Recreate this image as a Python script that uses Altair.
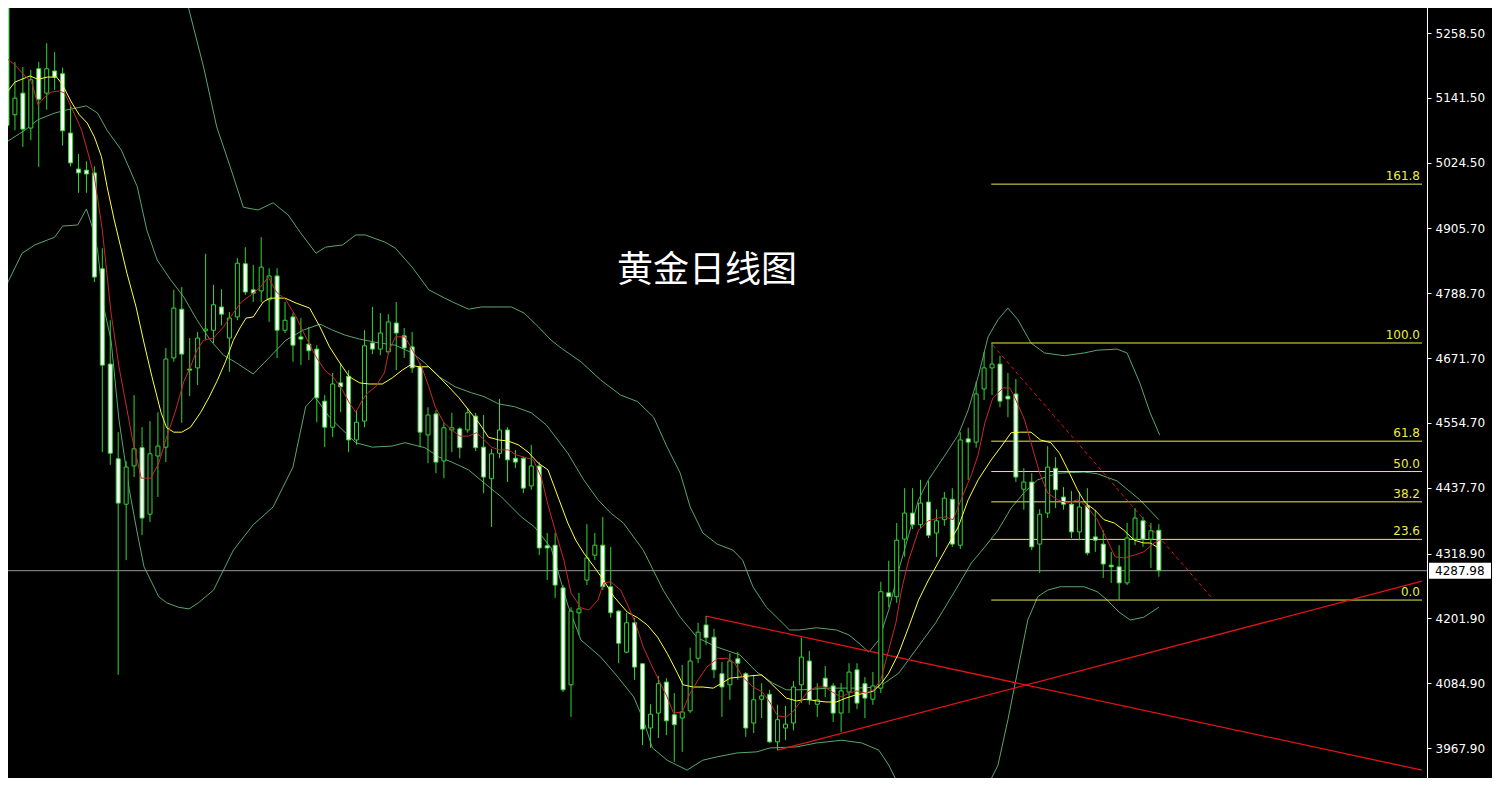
import altair as alt
import pandas as pd

# ---------------- data ----------------
opens = [5312,5111,5150,5087,5194,5150,5190,5185,5078,5013,5011,5006,4833,4661,4490,4408,4477,4510,4390,4495,
         4511,4672,4760,4652,4654,4721,4722,4764,4708,4746,4842,4795,4793,4777,4820,4722,4746,4710,4697,4688,
         4594,4547,4627,4639,4524,4558,4699,4688,4683,4735,4712,4692,4656,4533,4571,4486,4542,4544,4542,4567,
         4511,4454,4500,4542,4491,4491,4441,4477,4333,4334,4257,4082,4212,4271,4316,4334,4259,4215,4141,4194,
         4120,4004,4031,4087,4028,4022,4035,4130,4190,4168,4102,4082,4129,4102,4013,4056,4065,3979,4004,4013,
         4082,4125,4047,4094,4080,4031,4069,4109,4084,4056,4076,4248,4241,4345,4392,4371,4412,4356,4380,4417,
         4334,4526,4520,4616,4654,4661,4603,4607,4435,4448,4336,4392,4473,4421,4408,4358,4405,4349,4336,4298,
         4295,4266,4345,4378,4345,4361]
highs = [5322,5206,5197,5192,5206,5240,5224,5196,5129,5040,5027,5018,4870,4740,4538,4486,4605,4547,4558,4574,
         4690,4795,4800,4708,4719,4860,4804,4796,4755,4852,4872,4840,4890,4834,4834,4773,4753,4744,4728,4695,
         4605,4645,4663,4650,4578,4722,4764,4753,4751,4773,4726,4719,4663,4583,4578,4555,4573,4547,4582,4573,
         4569,4508,4598,4547,4506,4493,4515,4484,4356,4356,4262,4222,4248,4372,4356,4385,4331,4217,4212,4203,
         4121,4047,4098,4094,4067,4118,4149,4194,4206,4183,4123,4139,4141,4105,4100,4085,4073,4046,4044,4089,
         4167,4143,4085,4116,4085,4085,4121,4121,4096,4105,4268,4306,4374,4437,4437,4452,4450,4399,4430,4437,
         4538,4546,4629,4683,4699,4676,4645,4634,4473,4464,4399,4513,4493,4439,4432,4430,4437,4398,4361,4322,
         4334,4374,4401,4385,4374,4372]
lows = [4999,5083,5053,5065,5017,5120,5156,5055,5018,4970,4970,4809,4502,4479,4100,4307,4457,4352,4376,4421,
        4484,4665,4555,4603,4623,4704,4699,4731,4647,4740,4786,4773,4773,4737,4672,4717,4665,4659,4668,4556,
        4511,4529,4574,4502,4515,4547,4679,4677,4679,4650,4672,4645,4511,4482,4464,4455,4502,4491,4537,4504,
        4428,4367,4491,4448,4473,4428,4434,4316,4271,4239,4069,4024,4172,4262,4307,4253,4203,4121,4139,4091,
        3973,3968,3986,3991,3943,3961,4031,4121,4154,4094,4024,4055,4091,3988,3995,4022,3977,3964,3982,4000,
        4049,4046,4024,4060,4015,3997,4031,4038,4022,4046,4067,4222,4230,4313,4363,4365,4347,4313,4369,4331,
        4327,4452,4510,4596,4605,4583,4565,4448,4398,4325,4284,4383,4401,4398,4347,4343,4316,4322,4275,4266,
        4235,4262,4334,4331,4293,4277]
closes = [5092,5141,5085,5174,5139,5194,5179,5082,5024,5006,5004,4818,4659,4500,4410,4475,4508,4383,4499,4513,
          4670,4762,4679,4650,4708,4724,4768,4751,4744,4843,4791,4789,4836,4820,4722,4740,4695,4706,4685,4600,
          4547,4625,4620,4524,4556,4694,4688,4717,4737,4717,4690,4654,4538,4569,4484,4546,4546,4510,4573,4510,
          4457,4499,4542,4488,4484,4437,4477,4329,4329,4262,4073,4215,4219,4311,4334,4259,4212,4157,4194,4114,
          4002,4029,4084,4017,4010,4033,4125,4177,4167,4109,4078,4125,4121,4004,4055,4062,3979,4019,4011,4078,
          4132,4055,4055,4078,4031,4071,4105,4049,4058,4080,4250,4241,4343,4392,4371,4410,4352,4378,4419,4336,
          4524,4520,4607,4654,4661,4594,4598,4457,4448,4331,4390,4475,4434,4408,4358,4403,4320,4343,4300,4295,
          4266,4347,4383,4345,4360,4287.98]

# moving averages / bands: (bar index, price)
ma_fast = [(-0.25,5215),(1.0,5201),(2.0,5185),(3.1,5170),(3.9,5129),(4.75,5143),(5.6,5152),(6.6,5154),(7.25,5150),
           (8.25,5120),(9.4,5083),(10.1,5047),(11.0,4999),(12.0,4903),(13.1,4753),(14.1,4656),(15.75,4529),(16.9,4455),
           (18.1,4455),(19.1,4482),(20.1,4529),(21.25,4578),(22.25,4629),(23.1,4656),(23.9,4686),(24.75,4704),(26.0,4708),
           (27.25,4728),(28.5,4753),(29.5,4773),(30.75,4786),(31.9,4800),(32.9,4818),(33.9,4791),(35.1,4777),(36.4,4746),
           (37.6,4710),(38.9,4674),(40.0,4650),(41.0,4638),(42.0,4620),(43.1,4591),(43.9,4574),(44.75,4596),(45.4,4609),
           (46.4,4620),(47.5,4645),(48.1,4686),(48.9,4710),(50.1,4710),(51.4,4677),(52.25,4654),(53.1,4620),(53.9,4584),
           (55.0,4555),(56.0,4542),(57.0,4531),(58.1,4531),(59.1,4537),(60.1,4524),(61.0,4511),(62.0,4506),(63.1,4506),
           (64.1,4497),(65.1,4493),(66.25,4488),(67.25,4457),(68.1,4407),(69.1,4356),(70.1,4307),(71.0,4248),(72.25,4221),
           (73.25,4217),(74.4,4235),(75.1,4266),(76.0,4268),(77.25,4253),(78.25,4222),(79.1,4194),(80.1,4150),(81.25,4114),
           (82.25,4085),(83.1,4060),(83.9,4031),(85.0,4033),(86.0,4067),(87.0,4091),(88.1,4114),(89.4,4129),(90.6,4130),
           (91.6,4121),(92.6,4096),(93.9,4078),(95.1,4069),(96.0,4051),(97.0,4026),(98.1,4024),(98.9,4033),(99.75,4049),
           (100.75,4069),(101.9,4078),(102.9,4078),(103.9,4069),(105.0,4060),(106.0,4067),(107.0,4071),(108.1,4067),
           (109.1,4073),(110.0,4091),(110.75,4132),(111.9,4194),(112.6,4253),(113.5,4307),(114.75,4361),(116.0,4378),
           (117.25,4383),(118.1,4385),(119.1,4380),(120.1,4416),(121.4,4461),(122.25,4497),(123.1,4555),(124.1,4600),
           (125.4,4618),(126.25,4618),(127.0,4596),(128.1,4560),(128.9,4519),(130.0,4464),(131.0,4428),(132.25,4416),
           (133.5,4410),(134.75,4416),(136.0,4403),(137.25,4380),(138.5,4343),(139.5,4313),(140.6,4311),(141.9,4316),
           (143.1,4322),(144.4,4338),(145.1,4343)]
ma_slow = [(-0.25,5147),(1.0,5170),(2.9,5181),(3.9,5175),(5.1,5179),(6.25,5179),(7.0,5165),(8.1,5134),(9.1,5111),
           (10.1,5096),(11.0,5071),(11.9,5035),(12.6,4981),(13.5,4921),(14.4,4867),(15.1,4825),(16.25,4764),(17.25,4699),
           (18.25,4638),(19.4,4573),(20.1,4546),(21.0,4538),(22.0,4538),(23.1,4547),(24.4,4574),(25.4,4600),(26.4,4629),
           (27.5,4665),(28.5,4704),(29.4,4728),(30.1,4744),(31.0,4746),(32.25,4773),(33.1,4780),(35.0,4780),(36.4,4771),
           (38.1,4762),(39.4,4728),(40.6,4692),(41.9,4663),(43.1,4638),(44.4,4627),(45.6,4625),(47.25,4625),(48.5,4636),
           (49.75,4650),(50.75,4659),(51.9,4656),(53.1,4656),(54.4,4638),(55.6,4620),(56.9,4600),(58.1,4578),(59.4,4555),
           (60.6,4529),(61.9,4524),(63.1,4522),(64.4,4515),(65.6,4502),(66.9,4482),(68.1,4470),(69.5,4416),(70.6,4374),
           (71.6,4343),(72.6,4320),(73.9,4295),(75.1,4271),(76.4,4241),(78.1,4213),(79.4,4203),(80.6,4190),(81.9,4168),
           (83.1,4139),(84.4,4103),(85.1,4082),(86.4,4078),(87.6,4078),(88.9,4076),(90.0,4085),(91.0,4094),(92.25,4096),
           (93.5,4098),(95.0,4100),(96.0,4087),(97.0,4073),(98.1,4058),(99.4,4053),(100.6,4056),(101.9,4053),(103.1,4051),
           (104.4,4051),(105.6,4058),(106.9,4064),(108.1,4067),(109.1,4071),(110.1,4085),(111.0,4103),(112.25,4139),
           (113.5,4186),(114.75,4235),(116.0,4271),(118.1,4325),(119.75,4367),(121.0,4416),(122.25,4452),(123.9,4488),
           (125.1,4511),(126.4,4537),(127.6,4538),(128.9,4538),(130.1,4524),(131.4,4519),(132.5,4500),(133.75,4464),
           (134.75,4434),(135.75,4410),(136.9,4398),(138.1,4380),(139.4,4374),(140.6,4361),(141.9,4343),(143.1,4338),
           (143.9,4338),(145.0,4329)]
band_upper = [(0,5363),(2,5314),(3.5,5336),(6,5372),(8.5,5336),(10,5316),(12.25,5363),(16,5399),(19.75,5381),(22,5327),
              (22.6,5318),(24.75,5197),(26.4,5089),(28.1,5017),(29.75,4944),(31.6,4939),(33.5,4952),(35.4,4930),
              (36.9,4899),(38.9,4861),(40.1,4872),(42.25,4876),(43.9,4894),(45.1,4894),(47.6,4881),(48.9,4870),(51,4836),
              (53.1,4795),(55.1,4780),(56.4,4771),(58.1,4760),(59.75,4764),(63.5,4764),(65.1,4753),(66.9,4728),(68.5,4704),
              (69.75,4690),(72.25,4665),(74.75,4632),(77.25,4605),(79.4,4593),(81.4,4565),(83.1,4511),(84.75,4464),
              (86,4403),(87.6,4356),(89.4,4336),(91.4,4325),(92.6,4307),(93.9,4259),(95.6,4222),(97.25,4199),(98.5,4181),
              (99.75,4181),(101.9,4185),(104.4,4181),(106,4172),(107.25,4157),(108.5,4141),(109.75,4163),(111,4217),
              (112.25,4289),(113.5,4352),(114.75,4416),(116,4452),(118.1,4497),(119.75,4533),(121,4578),(122.25,4638),
              (123.5,4710),(124.75,4741),(126,4762),(127.25,4741),(128.9,4699),(130.6,4681),(133.1,4676),(135.6,4681),
              (137.25,4686),(139.75,4688),(141,4681),(142.6,4627),(143.9,4573),(145.1,4533)]
band_mid = [(-0.25,5060),(2.25,5083),(3.9,5102),(6,5114),(7.6,5120),(10,5127),(11.4,5114),(12.6,5083),(14.4,5047),
            (16.4,4981),(17.6,4903),(18.9,4849),(20.6,4813),(22.25,4782),(23.9,4741),(25.6,4704),(27.25,4677),(28.9,4663),
            (31,4643),(33.1,4674),(35.1,4704),(37.25,4722),(39.4,4733),(41,4722),(42.6,4713),(44.4,4706),(46.9,4699),
            (48.9,4695),(51,4681),(52.6,4663),(54.4,4638),(56.4,4620),(58.5,4609),(60.1,4602),(61.9,4589),(63.9,4584),
            (66,4573),(67.9,4551),(70.6,4500),(72.6,4452),(74.4,4416),(76,4392),(77.6,4374),(80.1,4325),(82.6,4253),
            (84.75,4204),(86.9,4167),(89.4,4150),(92.25,4136),(94.4,4105),(96.4,4085),(98.1,4073),(100.1,4073),
            (103.5,4076),(106.9,4076),(109.75,4078),(112.25,4103),(114.4,4145),(116.9,4194),(119.4,4253),(121.4,4302),
            (123.1,4331),(124.75,4361),(126.4,4401),(128.1,4430),(129.75,4452),(132.25,4464),(135.6,4466),(137.25,4463),
            (139.75,4450),(142.6,4416),(145,4380)]
band_lower = [(-0.25,4798),(1.9,4861),(3.5,4876),(6,4890),(7,4910),(8.9,4912),(10,4941),(10.75,4908),(11.4,4867),
              (12.25,4759),(13.1,4704),(14.1,4560),(15.4,4434),(16.4,4356),(17.25,4295),(18.25,4266),(19.1,4241),
              (20.1,4230),(21.6,4222),(22.9,4219),(24.1,4230),(26,4253),(28.5,4325),(31,4371),(33.5,4403),(36,4475),
              (37.6,4584),(38.75,4602),(40.6,4565),(42.25,4542),(43.9,4519),(46,4511),(48.5,4513),(50.1,4519),(52.6,4510),
              (54.4,4493),(56,4484),(58.1,4470),(60.1,4446),(62.25,4421),(64.75,4385),(66.4,4367),(68.5,4329),(70.6,4226),
              (72.25,4163),(74.75,4132),(76.9,4096),(78.9,4060),(80.1,4019),(81.25,3968),(83.1,3946),(85.6,3928),
              (87.6,3946),(89.4,3952),(91.9,3959),(94.4,3961),(96,3968),(99.4,3970),(101.9,3977),(105.1,3982),(107.6,3977),
              (109.75,3964),(111,3937),(112.25,3901),(114.1,3847),(116.6,3811),(119.1,3820),(121.6,3865),(123.5,3901),
              (124.75,3937),(126,4019),(127.25,4109),(128.5,4199),(129.75,4241),(131,4253),(132.6,4259),(135.6,4259),
              (137.25,4250),(138.5,4235),(140,4213),(141.4,4199),(143.1,4204),(145,4222)]

trend_down = [(88, 4206), (178.125, 3928)]
trend_up = [(97, 3964), (178.125, 4269)]
trend_dash = [(124.1, 4695), (151.6, 4240)]

fib_low, fib_high = 4235, 4699
fib_levels = [0.0, 23.6, 38.2, 50.0, 61.8, 100.0, 161.8]
fib_start = 123.9

tick_values = [3967.90, 4084.90, 4201.90, 4318.90, 4437.70, 4554.70, 4671.70, 4788.70, 4905.70, 5024.50, 5141.50, 5258.50]
last_price = 4287.98
title_text = "黄金日线图"

# ---------------- styling ----------------
GREEN = "#33d633"
BAND = "#5aa56e"
RED_MA = "#c8282d"
YELLOW_MA = "#ffff3c"
FIB = "#ecec46"
TREND = "#e01414"
PRICE_LINE = "#979797"

W, H = 1427, 778
X_MAX = 178.125
Y_MIN, Y_MAX = 3913.8, 5318.1

xs = alt.Scale(domain=[-0.25, X_MAX], nice=False, zero=False)
ys = alt.Scale(domain=[Y_MIN, Y_MAX], nice=False, zero=False)
yax = alt.Axis(orient="right", values=tick_values, format=".2f", labelColor="white", tickColor="white",
               domainColor="white", tickSize=4, labelPadding=4, labelFont="DejaVu Sans", labelFontSize=12,
               grid=False, title=None, labelOverlap=False, domainWidth=1, tickWidth=1)


def X(f):
    return alt.X(f, type="quantitative", scale=xs, axis=None)


def Y(f):
    return alt.Y(f, type="quantitative", scale=ys, axis=yax)


candles = pd.DataFrame({"i": list(range(len(closes))), "open": opens, "high": highs, "low": lows, "close": closes})

wicks = alt.Chart(candles).mark_rule(color=GREEN, strokeWidth=1, clip=True).encode(
    x=X("i"), y=Y("low"), y2="high")
bodies = alt.Chart(candles).mark_bar(size=4, stroke=GREEN, strokeWidth=1, clip=True).encode(
    x=X("i"), y=Y("open"), y2="close",
    fill=alt.condition("datum.close >= datum.open", alt.value("black"), alt.value("white")))


def line(pts, color, dash=None, width=1):
    df = pd.DataFrame(pts, columns=["i", "v"])
    kw = dict(color=color, strokeWidth=width, clip=True)
    if dash:
        kw["strokeDash"] = dash
    return alt.Chart(df).mark_line(**kw).encode(x=X("i"), y=Y("v"))


fib_df = pd.DataFrame({
    "level": fib_levels,
    "price": [fib_low + (fib_high - fib_low) * l / 100 for l in fib_levels],
    "label": [f"{l:.1f}" for l in fib_levels],
    "x0": [fib_start] * len(fib_levels),
    "x1": [X_MAX] * len(fib_levels),
})
fib_rules = alt.Chart(fib_df).mark_rule(color=FIB, strokeWidth=1).encode(x=X("x0"), x2="x1", y=Y("price"))
fib_text = alt.Chart(fib_df).mark_text(align="right", baseline="bottom", dx=-2, dy=-1, color=FIB,
                                        font="DejaVu Sans", fontSize=12).encode(x=X("x1"), y=Y("price"), text="label:N")

price_df = pd.DataFrame({"p": [last_price], "label": [f"{last_price:.2f}"]})
price_line = alt.Chart(price_df).mark_rule(color=PRICE_LINE, strokeWidth=1).encode(y=Y("p"))
box_half = 8 * (Y_MAX - Y_MIN) / H
box_df = pd.DataFrame({"hi": [last_price + box_half], "lo": [last_price - box_half]})
price_box = alt.Chart(box_df).mark_rect(color="white").encode(
    x=alt.value(W + 2), x2=alt.value(W + 64), y=Y("hi"), y2="lo")
price_text = alt.Chart(price_df).mark_text(align="left", baseline="middle", color="black",
                                           font="DejaVu Sans", fontSize=12).encode(
    x=alt.value(W + 8), y=Y("p"), text="label:N")

title = alt.Chart(pd.DataFrame({"t": [title_text]})).mark_text(
    color="white", font="Noto Sans CJK SC", fontSize=36, align="center", baseline="middle").encode(
    x=alt.value(707), y=alt.value(271), text="t:N")

chart = alt.layer(
    line(band_upper, BAND), line(band_mid, BAND), line(band_lower, BAND),
    price_line,
    fib_rules, fib_text,
    line(trend_down, TREND, width=1.3), line(trend_up, TREND, width=1.3), line(trend_dash, TREND, dash=[4, 3]),
    wicks, bodies,
    line(ma_slow, YELLOW_MA), line(ma_fast, RED_MA),
    title, price_box, price_text,
).properties(
    width=W, height=H,
    padding={"left": -8, "top": -8, "right": 65, "bottom": 0},
    autosize=alt.AutoSizeParams(type="none"),
    background="black",
).configure_view(stroke=None)

chart.save("out.html", embed_options={"renderer": "svg", "actions": False})
